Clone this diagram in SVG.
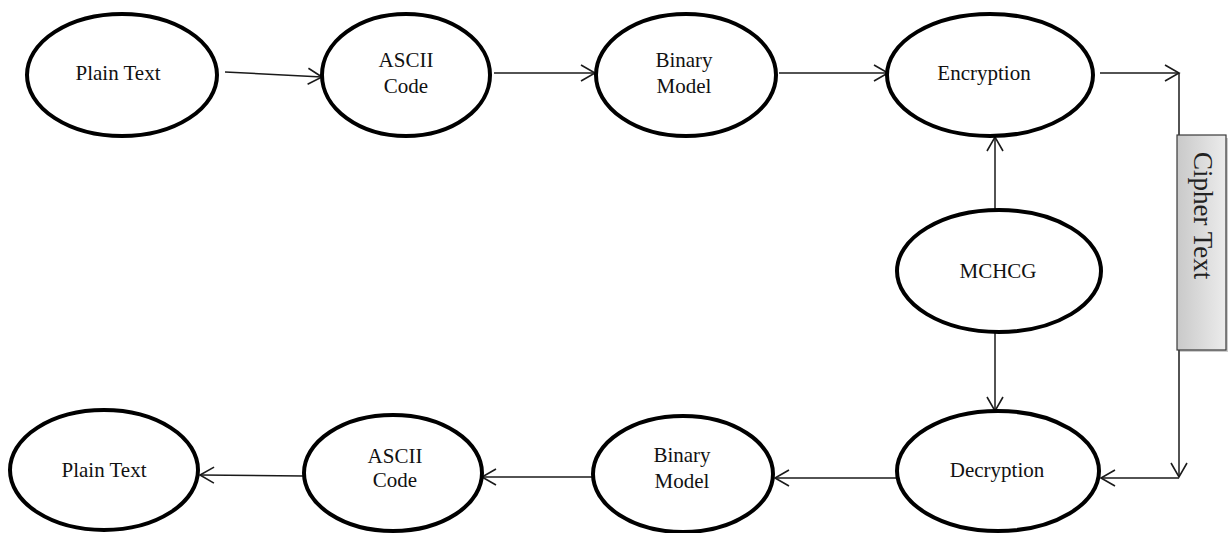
<svg xmlns="http://www.w3.org/2000/svg" width="1229" height="533" viewBox="0 0 1229 533">
  <style>
    .node ellipse { fill: #ffffff; stroke: #000000; stroke-width: 4; }
    .label { font-family: "Liberation Serif", "Times New Roman", serif; font-size: 21px; fill: #111111; text-anchor: middle; }
    .edge { stroke: #1a1a1a; stroke-width: 1.5; fill: none; }
    .arrow { marker-end: url(#head); }
  </style>
  <defs>
    <marker id="head" markerUnits="userSpaceOnUse" markerWidth="18" markerHeight="20" refX="15" refY="9" orient="auto">
      <path d="M1,1 L15,9 L1,17" fill="none" stroke="#1a1a1a" stroke-width="1.6"/>
    </marker>
    <linearGradient id="boxFill" x1="0" y1="0" x2="1" y2="0">
      <stop offset="0" stop-color="#c9c9c9"/>
      <stop offset="1" stop-color="#ececec"/>
    </linearGradient>
  </defs>

  <!-- connectors -->
  <g id="connectors">
    <line class="edge arrow" x1="225" y1="72" x2="322" y2="77"/>
    <line class="edge arrow" x1="494" y1="73" x2="595" y2="73"/>
    <line class="edge arrow" x1="779" y1="73" x2="888" y2="73"/>
    <line class="edge arrow" x1="1100" y1="73" x2="1179" y2="73"/>
    <line class="edge arrow" x1="1179" y1="73" x2="1179" y2="477"/>
    <line class="edge arrow" x1="1179" y1="478" x2="1101" y2="478"/>
    <line class="edge arrow" x1="995" y1="210" x2="995" y2="137"/>
    <line class="edge arrow" x1="995" y1="333" x2="995" y2="411"/>
    <line class="edge arrow" x1="897" y1="478" x2="775" y2="478"/>
    <line class="edge arrow" x1="592" y1="477" x2="482" y2="477"/>
    <line class="edge arrow" x1="304" y1="476" x2="200" y2="475"/>
  </g>

  <!-- top row -->
  <g id="plain-text-in" class="node">
    <ellipse cx="122" cy="75" rx="95" ry="61"/>
    <text class="label" x="118" y="80">Plain Text</text>
  </g>
  <g id="ascii-code-in" class="node">
    <ellipse cx="406" cy="75" rx="84" ry="61"/>
    <text class="label" x="406" y="67">ASCII</text>
    <text class="label" x="406" y="93">Code</text>
  </g>
  <g id="binary-model-in" class="node">
    <ellipse cx="686" cy="75" rx="90" ry="61"/>
    <text class="label" x="684" y="67">Binary</text>
    <text class="label" x="684" y="93">Model</text>
  </g>
  <g id="encryption" class="node">
    <ellipse cx="990" cy="75" rx="103" ry="61"/>
    <text class="label" x="984" y="80">Encryption</text>
  </g>

  <!-- key generator -->
  <g id="mchcg" class="node">
    <ellipse cx="999" cy="271" rx="102" ry="61"/>
    <text class="label" x="998" y="278">MCHCG</text>
  </g>

  <!-- cipher text band -->
  <g id="cipher-text">
    <rect x="1180" y="138" width="48" height="214" fill="#9a9a9a" opacity="0.5"/>
    <rect x="1177" y="135" width="49" height="215" fill="url(#boxFill)" stroke="#3a3a3a" stroke-width="1.2"/>
    <text x="1194" y="152" transform="rotate(90 1194 152)" font-family="Liberation Serif, Times New Roman, serif" font-size="27" fill="#222222">Cipher Text</text>
  </g>

  <!-- bottom row -->
  <g id="decryption" class="node">
    <ellipse cx="998" cy="471" rx="101" ry="60"/>
    <text class="label" x="997" y="477">Decryption</text>
  </g>
  <g id="binary-model-out" class="node">
    <ellipse cx="683" cy="474" rx="90" ry="58"/>
    <text class="label" x="682" y="462">Binary</text>
    <text class="label" x="682" y="488">Model</text>
  </g>
  <g id="ascii-code-out" class="node">
    <ellipse cx="393" cy="473" rx="89" ry="58"/>
    <text class="label" x="395" y="463">ASCII</text>
    <text class="label" x="395" y="487">Code</text>
  </g>
  <g id="plain-text-out" class="node">
    <ellipse cx="104" cy="470" rx="94" ry="60"/>
    <text class="label" x="104" y="477">Plain Text</text>
  </g>
</svg>
